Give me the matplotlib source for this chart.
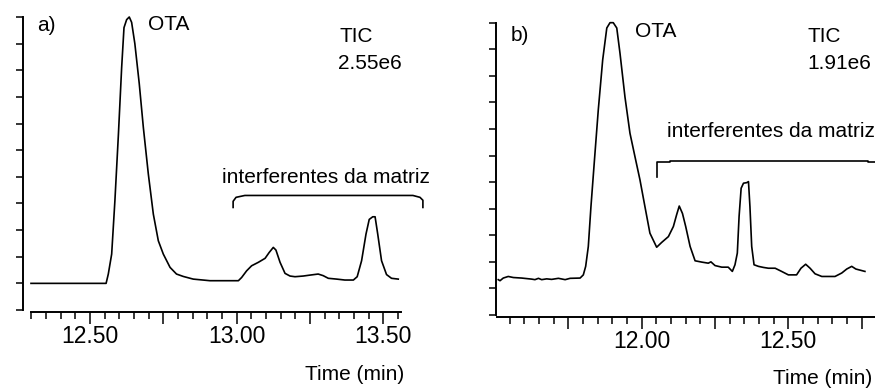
import matplotlib
matplotlib.use('Agg')
import matplotlib.pyplot as plt
from matplotlib.ticker import MultipleLocator, FuncFormatter

plt.rcParams['font.family'] = ['Liberation Sans', 'DejaVu Sans']
plt.rcParams['font.size'] = 15

# chromatogram a) - time (min) vs relative intensity (y tick units)
time_a = [12.299, 12.555, 12.5625, 12.574, 12.585, 12.597, 12.608, 12.616, 12.625, 12.634,
          12.642, 12.653, 12.668, 12.682, 12.699, 12.716, 12.733, 12.75, 12.773, 12.795,
          12.818, 12.852, 12.909, 13.006, 13.017, 13.034, 13.051, 13.074, 13.097, 13.111,
          13.125, 13.134, 13.148, 13.165, 13.182, 13.199, 13.227, 13.25, 13.278, 13.295,
          13.3125, 13.341, 13.369, 13.398, 13.411, 13.426, 13.441, 13.452, 13.464, 13.472,
          13.481, 13.494, 13.511, 13.528, 13.551]
signal_a = [0.0, 0.0, 0.35, 1.1, 3.1, 5.6, 8.1, 9.6, 9.9, 10.0,
            9.8, 9.0, 7.5, 5.85, 4.1, 2.6, 1.6, 1.1, 0.6, 0.35,
            0.26, 0.16, 0.1, 0.1, 0.22, 0.47, 0.66, 0.79, 0.94, 1.16,
            1.35, 1.25, 0.79, 0.375, 0.275, 0.25, 0.275, 0.31, 0.35, 0.29,
            0.19, 0.16, 0.125, 0.125, 0.25, 0.85, 1.85, 2.4, 2.5, 2.5,
            1.85, 0.85, 0.33, 0.19, 0.16]

# chromatogram b)
time_b = [11.511, 11.517, 11.528, 11.545, 11.5625, 11.591, 11.625, 11.636, 11.648, 11.659,
          11.676, 11.693, 11.716, 11.739, 11.756, 11.79, 11.801, 11.809, 11.818, 11.827,
          11.839, 11.852, 11.867, 11.881, 11.892, 11.903, 11.915, 11.926, 11.943, 11.96,
          11.977, 11.994, 12.011, 12.028, 12.051, 12.068, 12.091, 12.108, 12.119, 12.128,
          12.139, 12.15, 12.165, 12.182, 12.205, 12.227, 12.236, 12.25, 12.273, 12.295,
          12.309, 12.318, 12.326, 12.332, 12.339, 12.347, 12.358, 12.364, 12.369, 12.375,
          12.383, 12.398, 12.415, 12.432, 12.455, 12.477, 12.5, 12.528, 12.543, 12.559,
          12.574, 12.591, 12.614, 12.659, 12.682, 12.699, 12.716, 12.73, 12.761]
signal_b = [0.33, 0.29, 0.39, 0.45, 0.41, 0.39, 0.35, 0.33, 0.38, 0.33,
            0.36, 0.34, 0.38, 0.33, 0.38, 0.39, 0.51, 0.83, 1.58, 3.08,
            4.84, 6.72, 8.6, 9.8, 10.0, 10.0, 9.8, 8.85, 7.2, 5.84,
            4.96, 4.09, 3.08, 2.08, 1.55, 1.73, 1.95, 2.33, 2.77, 3.1,
            2.82, 2.33, 1.58, 1.04, 0.99, 0.95, 1.0, 0.86, 0.8, 0.8,
            0.64, 0.89, 1.33, 2.71, 3.77, 3.96, 3.98, 4.02, 3.08, 1.58,
            0.89, 0.83, 0.79, 0.76, 0.76, 0.64, 0.51, 0.51, 0.76, 0.91,
            0.76, 0.55, 0.45, 0.45, 0.58, 0.73, 0.83, 0.73, 0.64]

# brackets over the matrix interferences
bracket_a_x = [12.988, 12.988, 12.998, 13.028, 13.601, 13.625, 13.635, 13.635]
bracket_a_y = [2.85, 3.08, 3.23, 3.30, 3.30, 3.23, 3.12, 2.85]
bracket_b_x = [12.052, 12.052, 12.097, 12.097, 12.771, 12.771, 12.90]
bracket_b_y = [4.18, 4.74, 4.74, 4.78, 4.78, 4.74, 4.74]

tic_a = '2.55e6'
tic_b = '1.91e6'

W, H = 875, 389


def px_axes(fig, left, right, top, bottom):
    return fig.add_axes([left / W, (H - bottom) / H, (right - left) / W, (bottom - top) / H])


def style_axes(ax, xlim, ylim, xstart):
    ax.set_xlim(*xlim)
    ax.set_ylim(*ylim)
    for s in ['top', 'right']:
        ax.spines[s].set_visible(False)
    ax.spines['left'].set_bounds(-1, 10)
    ax.spines['bottom'].set_bounds(xstart, xlim[1])
    for s in ['left', 'bottom']:
        ax.spines[s].set_linewidth(1.4)
    ax.xaxis.set_major_locator(MultipleLocator(0.25))
    ax.xaxis.set_minor_locator(MultipleLocator(0.05))
    ax.xaxis.set_major_formatter(FuncFormatter(
        lambda v, p: '%.2f' % v if abs(v * 2 - round(v * 2)) < 1e-6 else ''))
    ax.yaxis.set_major_locator(MultipleLocator(1))
    ax.set_yticklabels([])
    ax.tick_params(axis='x', which='major', length=8.5, width=1.1, pad=1, labelsize=16.5)
    ax.tick_params(axis='x', which='minor', length=5, width=1.1)
    ax.tick_params(axis='y', which='major', length=5, width=1.1)


fig = plt.figure(figsize=(W / 100, H / 100), dpi=100)

# panel a
ax1 = px_axes(fig, 22.5, 400.9, 9, 312)
ax1.plot(time_a, signal_a, color='black', lw=1.2)
style_axes(ax1, (12.27, 13.56), (-1.075, 10.3), 12.30)
ax1.plot(bracket_a_x, bracket_a_y, color='black', lw=1.2, clip_on=False)
ax1.text(12.319, 9.68, 'a)', va='center', ha='left')
ax1.text(12.698, 9.7, 'OTA', va='center', ha='left')
ax1.text(13.352, 9.25, 'TIC', va='center', ha='left')
ax1.text(13.346, 8.25, tic_a, va='center', ha='left')
ax1.text(12.95, 3.98, 'interferentes da matriz', va='center', ha='left', clip_on=False)
fig.text(305 / W, (H - 375) / H, 'Time (min)', va='center', ha='left')

# panel b
ax2 = px_axes(fig, 496.5, 905.7, 14.7, 316.7)
ax2.plot(time_b, signal_b, color='black', lw=1.2)
style_axes(ax2, (11.505, 12.90), (-1.064, 10.3), 11.505)
ax2.plot(bracket_b_x, bracket_b_y, color='black', lw=1.2, clip_on=False)
ax2.text(11.554, 9.51, 'b)', va='center', ha='left')
ax2.text(11.977, 9.67, 'OTA', va='center', ha='left')
ax2.text(12.566, 9.48, 'TIC', va='center', ha='left')
ax2.text(12.566, 8.48, tic_b, va='center', ha='left')
ax2.text(12.086, 5.91, 'interferentes da matriz', va='center', ha='left', clip_on=False)
fig.text(773 / W, (H - 378) / H, 'Time (min)', va='center', ha='left')

fig.savefig('out.png', dpi=100)
plt.close()
